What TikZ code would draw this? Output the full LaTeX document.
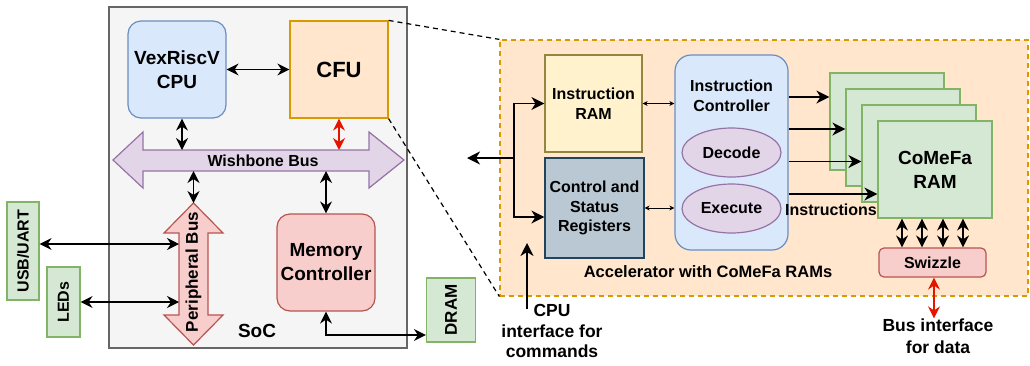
\documentclass[tikz,border=0pt]{standalone}
\usepackage{fontspec}
\setmainfont{Liberation Sans}
\usetikzlibrary{arrows.meta,shapes.geometric}
\definecolor{socfill}{HTML}{F5F5F5}
\definecolor{socdraw}{HTML}{666666}
\definecolor{bluefill}{HTML}{DAE8FC}
\definecolor{bluedraw}{HTML}{6C8EBF}
\definecolor{orgfill}{HTML}{FFE6CC}
\definecolor{orgdraw}{HTML}{D79B00}
\definecolor{purfill}{HTML}{E1D5E7}
\definecolor{purdraw}{HTML}{9673A6}
\definecolor{redfill}{HTML}{F8CECC}
\definecolor{reddraw}{HTML}{B85450}
\definecolor{grnfill}{HTML}{D5E8D4}
\definecolor{grndraw}{HTML}{82B366}
\definecolor{ylwfill}{HTML}{FFF2CC}
\definecolor{ylwdraw}{HTML}{968540}
\definecolor{csrfill}{HTML}{BAC8D3}
\definecolor{csrdraw}{HTML}{23445D}
\definecolor{arrred}{HTML}{E51400}

\begin{document}
\begin{tikzpicture}[x=1pt,y=-1pt,
    every node/.style={font=\fontsize{16}{19.5}\selectfont\bfseries, align=center, inner sep=0pt},
    big/.style={font=\fontsize{19}{24}\selectfont\bfseries},
    blk/.style={draw, line width=1.2pt, minimum width=98pt, minimum height=97pt},
    side/.style={draw=grndraw, fill=grnfill, line width=1.2pt, rotate=90},
    arr/.style={-{Stealth[length=13pt,width=13pt,inset=4pt]}, line width=1.6pt},
    biarr/.style={{Stealth[length=12pt,width=12pt,inset=4pt]}-{Stealth[length=12pt,width=12pt,inset=4pt]}, line width=1.6pt},
    tbiarr/.style={{Stealth[length=5pt,width=5pt,inset=1.5pt]}-{Stealth[length=5pt,width=5pt,inset=1.5pt]}, line width=1pt},
    dashln/.style={line width=1.2pt, dash pattern=on 5pt off 4pt}]
    \useasboundingbox (0,0) rectangle (1030,365);

    % SoC
    \node[draw=socdraw, fill=socfill, line width=1.3pt, minimum width=298pt, minimum height=341pt] (soc) at (258,177.5) {};
    \node[big] (soclbl) at (257,331) {SoC};
    \node[blk, rounded corners=13pt, draw=bluedraw, fill=bluefill, big] (cpu) at (177,69.5) {VexRiscV\\CPU};
    \node[blk, draw=orgdraw, fill=orgfill, font=\fontsize{22}{26}\selectfont\bfseries] (cfu) at (339,69.5) {CFU};
    \node[blk, rounded corners=13pt, draw=reddraw, fill=redfill, big] (mem) at (326,262.5) {Memory\\Controller};

    % buses
    \draw[line width=1.2pt, draw=purdraw, fill=purfill] (113,160) -- (143,132) -- (143,150) -- (369,150) -- (369,132) -- (404,160)
        -- (369,188) -- (369,171) -- (143,171) -- (143,188) -- cycle;
    \node (wb) at (263,161) {Wishbone Bus};
    \draw[line width=1.2pt, draw=reddraw, fill=redfill] (193.5,203) -- (223,233) -- (208,233) -- (208,315) -- (223,315) -- (193.5,345)
        -- (164,315) -- (179,315) -- (179,233) -- (164,233) -- cycle;
    \node[rotate=90, font=\fontsize{17}{20}\selectfont\bfseries] (pb) at (193.5,272) {Peripheral Bus};
    \coordinate (wbtop) at (0,150);
    \coordinate (wbbot) at (0,171);
    \coordinate (pbtip) at (193.5,203);
    \coordinate (pbleft) at (179,0);

    % outside the SoC (rotated: south is the right side, north the left side)
    \node[side, minimum width=98pt, minimum height=32pt] (usb) at (23,251) {USB/UART};
    \node[side, minimum width=70pt, minimum height=33pt] (leds) at (63.5,302) {LEDs};
    \node[side, minimum width=64pt, minimum height=49pt, font=\fontsize{17}{20}\selectfont\bfseries] (dram) at (451,310) {DRAM};

    \draw[biarr] (cpu.east) -- (cfu.west);
    \draw[biarr] ([xshift=5pt]cpu.south) -- ([xshift=5pt]cpu.south |- wbtop);
    \draw[biarr, color=arrred] (cfu.south) -- (cfu.south |- wbtop);
    \draw[biarr] (pbtip |- wbbot) -- (pbtip);
    \draw[biarr] (mem.north |- wbbot) -- (mem.north);
    \draw[biarr] (usb.south |- 0,244) -- (pbleft |- 0,244);
    \draw[biarr] (leds.south) -- (leds.south -| pbleft);
    \draw[biarr] (mem.south) |- (dram.north |- 0,335);

    % accelerator
    \node[draw=orgdraw, fill=orgfill, dashln, minimum width=528pt, minimum height=256pt] (acc) at (764,168) {};
    \draw[dashln] (cfu.north east) -- (acc.north west);
    \draw[dashln] (cfu.south east) -- (acc.south west);
    \node[font=\fontsize{16.5}{20}\selectfont\bfseries] (acclbl) at (708,272) {Accelerator with CoMeFa RAMs};

    \node[blk, draw=ylwdraw, fill=ylwfill, minimum width=97pt] (iram) at (593.5,103.5) {Instruction\\RAM};
    \node[blk, draw=csrdraw, fill=csrfill, minimum width=99pt, minimum height=100pt] (csr) at (594.5,208) {Control and\\Status\\Registers};
    \node[draw=bluedraw, fill=bluefill, rounded corners=16pt, line width=1.2pt, minimum width=113pt, minimum height=195pt] (ic) at (731.5,152.5) {};
    \node (ictitle) at (731.5,96) {Instruction\\Controller};
    \node[ellipse, draw=purdraw, fill=purfill, line width=1.2pt, minimum width=99pt, minimum height=49pt] (dec) at (731.5,152.5) {Decode};
    \node[ellipse, draw=purdraw, fill=purfill, line width=1.2pt, minimum width=99pt, minimum height=49pt] (exe) at (731.5,208.5) {Execute};

    \coordinate (br) at (514,158);
    \coordinate (cmdout) at (467,158);
    \draw[arr] (br) -- (cmdout);
    \draw[arr] (br) |- (iram.west);
    \draw[arr] (br) |- ([yshift=-9pt]csr.west);
    \draw[tbiarr] (iram.east) -- (iram.east -| ic.west);
    \draw[tbiarr] (csr.east) -- (csr.east -| ic.west);

    \node[font=\fontsize{17.5}{20.5}\selectfont\bfseries] (cmdlbl) at (552,331) {CPU\\interface for\\commands};
    \coordinate (cmdin) at (527,309);
    \draw[arr] (cmdin) -- (cmdin |- 0,243);

    % CoMeFa RAMs
    \foreach \i in {0,...,3}
        \node[blk, draw=grndraw, fill=grnfill, minimum width=114pt] (ram\i) at (887+16*\i,121.5+16*\i) {};
    \node[big] (ramlbl) at (ram3.center) {CoMeFa\\RAM};
    \foreach \i/\y in {0/97,1/129,2/161.5,3/194}
        \draw[arr] (ic.east |- 0,\y) -- (ram\i.west |- 0,\y);
    \node (instlbl) at (831,210) {Instructions};

    \node[draw=reddraw, fill=redfill, rounded corners=5pt, line width=1.2pt, minimum width=107pt, minimum height=29pt] (swz) at (932.5,262.5) {Swizzle};
    \foreach \x in {902,922,943,963}
        \draw[biarr] (ram3.south -| \x,0) -- (swz.north -| \x,0);
    \node[font=\fontsize{17.5}{22}\selectfont\bfseries] (busif) at (938,336) {Bus interface\\for data};
    \draw[biarr, color=arrred] ([xshift=1.5pt]swz.south) -- ([xshift=1.5pt]swz.south |- busif.north);
\end{tikzpicture}
\end{document}
